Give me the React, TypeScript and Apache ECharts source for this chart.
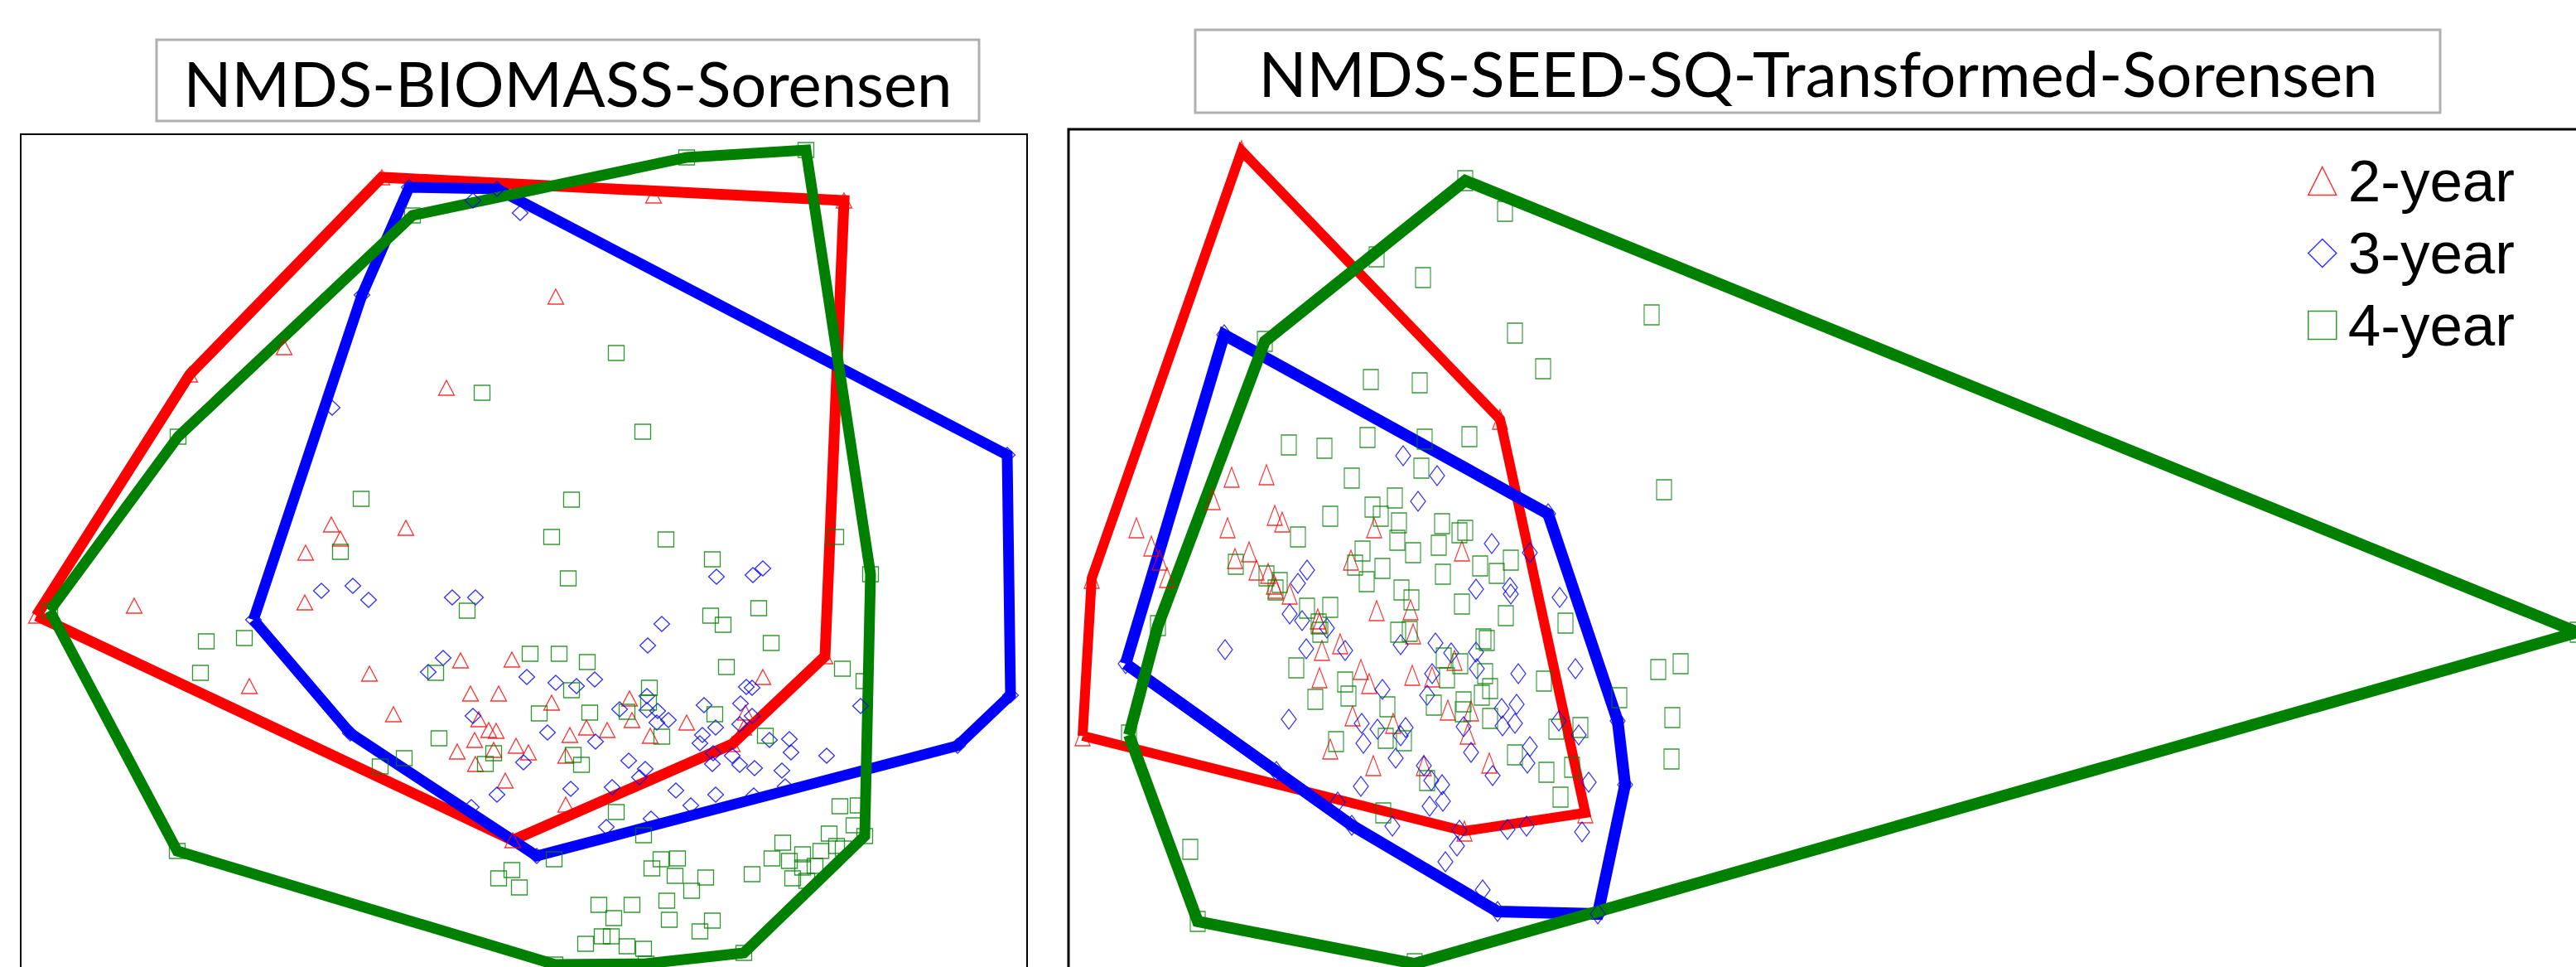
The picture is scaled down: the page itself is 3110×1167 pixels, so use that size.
import React, { useEffect, useRef } from "react";
import * as echarts from "echarts";

type Pt = [number, number];

// NMDS ordination scores (axis 1, axis 2) for each stand-age group, in the
// plotting units of each panel (axis 2 runs downwards).

// Panel 1: biomass, Sorensen distance
const biomassTwoYear: Pt[] = [
  [461, 214], [789, 236], [1019, 242], [229, 452], [343, 419], [671, 358], [539, 468],
  [400, 633], [490, 637], [411, 650], [369, 667], [162, 731], [368, 727], [44, 743],
  [301, 828], [446, 813], [556, 797], [618, 796], [475, 862], [568, 837], [602, 837],
  [666, 848], [760, 843], [578, 868], [590, 881], [599, 882], [763, 869], [688, 887],
  [708, 878], [733, 881], [785, 888], [573, 893], [552, 907], [596, 905], [623, 900],
  [638, 908], [574, 922], [683, 912], [610, 942], [683, 971], [619, 1014], [996, 792],
  [921, 817], [829, 872], [900, 860], [898, 878], [884, 898],
];

const biomassThreeYear: Pt[] = [
  [494, 226], [600, 228], [571, 242], [628, 257], [437, 356], [401, 492], [1216, 549],
  [388, 713], [426, 707], [445, 724], [546, 721], [574, 721], [306, 748], [865, 696],
  [909, 694], [921, 686], [799, 753], [782, 779], [1220, 839], [1156, 900], [423, 885],
  [648, 1033], [1039, 852], [535, 794], [517, 811], [636, 817], [671, 824], [696, 828],
  [718, 820], [781, 840], [748, 856], [781, 857], [794, 858], [807, 869], [793, 872],
  [571, 864], [661, 884], [719, 895], [632, 920], [759, 918], [779, 928], [772, 938],
  [689, 952], [739, 950], [816, 954], [600, 959], [569, 974], [732, 998], [786, 988],
  [901, 829], [908, 830], [850, 851], [894, 849], [908, 864], [864, 878], [893, 874],
  [848, 887], [845, 897], [929, 893], [953, 892], [955, 908], [998, 912], [861, 909],
  [884, 912], [860, 922], [893, 923], [911, 927], [944, 930], [864, 959], [834, 972],
  [910, 960], [948, 949],
];

const biomassFourYear: Pt[] = [
  [973, 181], [829, 190], [498, 260], [744, 426], [582, 474], [776, 521], [215, 527],
  [436, 602], [690, 603], [666, 648], [804, 651], [1009, 648], [411, 666], [860, 675],
  [686, 698], [1051, 693], [564, 737], [858, 743], [916, 734], [873, 754], [60, 737],
  [249, 774], [295, 770], [242, 812], [931, 776], [640, 789], [675, 789], [709, 799],
  [877, 805], [526, 812], [1017, 807], [1043, 822], [784, 830], [690, 833], [783, 848],
  [757, 859], [651, 861], [712, 860], [863, 862], [530, 891], [799, 889], [924, 888],
  [488, 915], [459, 925], [596, 909], [586, 922], [692, 911], [702, 923], [744, 980],
  [777, 1008], [669, 1037], [618, 1050], [602, 1060], [627, 1071], [798, 1037], [818, 1036],
  [787, 1048], [815, 1057], [852, 1059], [835, 1075], [723, 1092], [763, 1092], [805, 1087],
  [741, 1108], [808, 1110], [860, 1111], [845, 1124], [727, 1130], [738, 1130], [707, 1139],
  [757, 1142], [777, 1145], [898, 1150], [670, 1164], [780, 1163], [214, 1027], [1014, 973],
  [1036, 972], [1031, 996], [1044, 1009], [1001, 1006], [1010, 1021], [1018, 1024], [945, 1017],
  [991, 1027], [969, 1031], [932, 1036], [953, 1039], [969, 1047], [984, 1045], [908, 1055],
  [957, 1060], [974, 1063],
];

// Panel 2: seed bank, square-root transformed, Sorensen distance
const seedTwoYear: Pt[] = [
  [1499, 182], [1811, 506], [1914, 981], [1768, 1003], [1307, 888], [1318, 698],
  [1487, 576], [1529, 573], [1464, 603], [1539, 622], [1548, 630], [1372, 637], [1482, 637],
  [1659, 637], [1390, 659], [1400, 676], [1409, 697], [1491, 674], [1508, 666], [1517, 688],
  [1531, 692], [1538, 705], [1540, 710], [1557, 717], [1631, 676], [1765, 665], [1591, 747],
  [1593, 752], [1662, 737], [1703, 736], [1706, 765], [1596, 785], [1618, 777], [1643, 808],
  [1653, 825], [1593, 818], [1705, 815], [1729, 817], [1756, 797], [1748, 857], [1776, 858],
  [1633, 864], [1682, 873], [1772, 886], [1606, 904], [1658, 924], [1719, 924], [1798, 921],
];

const seedThreeYear: Pt[] = [
  [1478, 404], [1869, 620], [1953, 870], [1962, 947], [1929, 1103], [1808, 1100], [1359, 801],
  [1694, 550], [1735, 574], [1712, 605], [1801, 656], [1847, 667], [1578, 688], [1567, 704],
  [1782, 711], [1823, 709], [1824, 717], [1883, 721], [1557, 741], [1572, 749], [1602, 758],
  [1479, 784], [1577, 783], [1624, 785], [1691, 778], [1733, 776], [1752, 788], [1782, 787],
  [1783, 807], [1833, 813], [1902, 807], [1729, 813], [1669, 832], [1723, 839], [1831, 850],
  [1813, 855], [1829, 873], [1814, 876], [1556, 868], [1644, 873], [1663, 880], [1697, 878],
  [1767, 877], [1882, 870], [1906, 887], [1691, 888], [1646, 897], [1685, 915], [1776, 908],
  [1847, 901], [1844, 921], [1918, 944], [1802, 936], [1719, 924], [1728, 942], [1741, 947],
  [1643, 949], [1742, 967], [1726, 973], [1615, 968], [1632, 996], [1681, 997], [1762, 1002],
  [1820, 1001], [1843, 997], [1910, 1004], [1759, 1021], [1745, 1040], [1790, 1074], [1541, 931],
];

const seedFourYear: Pt[] = [
  [1769, 218], [1817, 255], [1662, 310], [1718, 335], [1994, 380], [1829, 402], [1527, 412],
  [1863, 445], [1655, 458], [1714, 462], [1556, 537], [1599, 541], [1651, 528], [1720, 530],
  [1774, 527], [2009, 591], [1716, 565], [1632, 577], [1684, 601], [1657, 612], [1667, 623],
  [1606, 623], [1689, 631], [1567, 648], [1741, 632], [1769, 640], [1762, 643], [1687, 652],
  [1706, 667], [1737, 658], [1645, 665], [1636, 682], [1669, 686], [1742, 693], [1787, 683],
  [1807, 692], [1824, 676], [1650, 702], [1692, 712], [1704, 724], [1765, 729], [1818, 743],
  [1492, 681], [1529, 695], [1545, 703], [1540, 712], [1578, 734], [1606, 733], [1592, 753],
  [1594, 763], [1688, 763], [1702, 762], [1791, 771], [1795, 773], [1398, 755], [1565, 806],
  [1624, 823], [1628, 840], [1588, 844], [1743, 794], [1763, 801], [1747, 818], [1793, 813],
  [1799, 831], [1789, 839], [1731, 851], [1675, 853], [1767, 847], [1766, 859], [1799, 867],
  [1890, 752], [1864, 822], [2002, 808], [2029, 801], [1955, 842], [2019, 866], [1879, 880],
  [1908, 878], [1613, 895], [1673, 891], [1695, 894], [1363, 887], [1829, 911], [1867, 932],
  [1898, 926], [1723, 942], [1884, 962], [1670, 981], [2018, 916], [1437, 1025], [1446, 1112],
  [1708, 1163], [3112, 763],
];

const groupNames = ["2-year", "3-year", "4-year"];
const groupColors = ["#ff0000", "#0000ff", "#008000"];
const groupSymbols = ["triangle", "diamond", "rect"];
const panelTitles = ["NMDS-BIOMASS-Sorensen", "NMDS-SEED-SQ-Transformed-Sorensen"];
const panelGroups: Pt[][][] = [
  [biomassTwoYear, biomassThreeYear, biomassFourYear],
  [seedTwoYear, seedThreeYear, seedFourYear],
];

// Andrew's monotone chain; returns a closed ring of hull vertices
function convexHull(points: Pt[]): Pt[] {
  const pts = points.slice().sort((a, b) => a[0] - b[0] || a[1] - b[1]);
  const cross = (o: Pt, a: Pt, b: Pt) =>
    (a[0] - o[0]) * (b[1] - o[1]) - (a[1] - o[1]) * (b[0] - o[0]);
  const lower: Pt[] = [];
  for (const p of pts) {
    while (lower.length >= 2 && cross(lower[lower.length - 2], lower[lower.length - 1], p) <= 0) lower.pop();
    lower.push(p);
  }
  const upper: Pt[] = [];
  for (let i = pts.length - 1; i >= 0; i--) {
    const p = pts[i];
    while (upper.length >= 2 && cross(upper[upper.length - 2], upper[upper.length - 1], p) <= 0) upper.pop();
    upper.push(p);
  }
  upper.pop();
  lower.pop();
  const hull = lower.concat(upper);
  hull.push(hull[0]);
  return hull;
}

// The drawing surface is larger than the visible page so that both frames
// run off the bottom (and the seed panel off the right) edge.
const SURFACE_W = 3300;
const SURFACE_H = 1320;

// Per-panel drawing settings
const panelLayout = [
  { left: 25, top: 162, width: 1215, height: 1100, markerSize: [19, 18], hullWidths: [13, 13, 13], frame: 2 },
  { left: 1290, top: 156, width: 1900, height: 1100, markerSize: [18, 24], hullWidths: [12, 14, 14], frame: 3 },
];

function buildOption(): echarts.EChartsOption {
  const series: any[] = [];
  panelGroups.forEach((groups, p) => {
    groups.forEach((pts, g) => {
      series.push({
        name: `${groupNames[g]} hull`,
        type: "line",
        xAxisIndex: p,
        yAxisIndex: p,
        data: convexHull(pts),
        symbol: "none",
        silent: true,
        z: 2,
        lineStyle: {
          color: groupColors[g],
          width: panelLayout[p].hullWidths[g],
          join: "miter",
          miterLimit: 4,
        },
      });
    });
  });
  panelGroups.forEach((groups, p) => {
    groups.forEach((pts, g) => {
      series.push({
        name: groupNames[g],
        type: "scatter",
        xAxisIndex: p,
        yAxisIndex: p,
        data: pts,
        symbol: groupSymbols[g],
        symbolSize: panelLayout[p].markerSize,
        z: 5,
        itemStyle: {
          color: "rgba(0,0,0,0)",
          borderColor: groupColors[g],
          borderWidth: 1.3,
        },
      });
    });
  });

  return {
    animation: false,
    backgroundColor: "#ffffff",
    grid: panelLayout.map((l) => ({
      left: l.left,
      top: l.top,
      width: l.width,
      height: l.height,
      show: true,
      borderColor: "#000000",
      borderWidth: l.frame,
      backgroundColor: "rgba(0,0,0,0)",
    })),
    xAxis: panelLayout.map((l, i) => ({
      gridIndex: i,
      type: "value",
      min: l.left,
      max: l.left + l.width,
      show: false,
    })),
    yAxis: panelLayout.map((l, i) => ({
      gridIndex: i,
      type: "value",
      min: l.top,
      max: l.top + l.height,
      inverse: true,
      show: false,
    })),
    legend: {
      orient: "vertical",
      left: 2786,
      top: 183,
      padding: 0,
      itemWidth: 34,
      itemHeight: 34,
      itemGap: 16,
      selectedMode: false,
      textStyle: {
        fontFamily: "'Liberation Sans', Arial, sans-serif",
        fontSize: 71,
        lineHeight: 70,
        color: "#000000",
        padding: [0, 0, 0, 9],
      },
      data: groupNames.map((name, g) => ({
        name,
        icon: groupSymbols[g],
        itemStyle: { color: "rgba(0,0,0,0)", borderColor: groupColors[g], borderWidth: 1.5 },
      })),
    },
    graphic: [
      {
        type: "rect",
        shape: { x: 189, y: 48, width: 993, height: 98 },
        style: { fill: "#ffffff", stroke: "#b0b0b0", lineWidth: 3 },
        z: 100,
      },
      {
        type: "text",
        x: 685.5,
        y: 99,
        style: {
          text: panelTitles[0],
          fill: "#000000",
          fontSize: 76,
          fontFamily: "Lato, 'Open Sans', sans-serif",
          align: "center",
          verticalAlign: "middle",
          textAlign: "center",
          textVerticalAlign: "middle",
        } as any,
        z: 101,
      },
      {
        type: "rect",
        shape: { x: 1443, y: 36, width: 1503, height: 100 },
        style: { fill: "#ffffff", stroke: "#b0b0b0", lineWidth: 3 },
        z: 100,
      },
      {
        type: "text",
        x: 2195,
        y: 87,
        style: {
          text: panelTitles[1],
          fill: "#000000",
          fontSize: 76,
          fontFamily: "Lato, 'Open Sans', sans-serif",
          align: "center",
          verticalAlign: "middle",
          textAlign: "center",
          textVerticalAlign: "middle",
        } as any,
        z: 101,
      },
    ],
    series,
  };
}

export default function App() {
  const ref = useRef<HTMLDivElement | null>(null);
  useEffect(() => {
    if (!ref.current) return;
    const chart = echarts.init(ref.current, undefined, { renderer: "svg" });
    chart.setOption(buildOption());
    return () => chart.dispose();
  }, []);
  return (
    <div
      style={{
        position: "absolute",
        left: 0,
        top: 0,
        width: 3110,
        height: 1167,
        overflow: "hidden",
        background: "#ffffff",
      }}
    >
      <div ref={ref} style={{ width: SURFACE_W, height: SURFACE_H }} />
    </div>
  );
}
